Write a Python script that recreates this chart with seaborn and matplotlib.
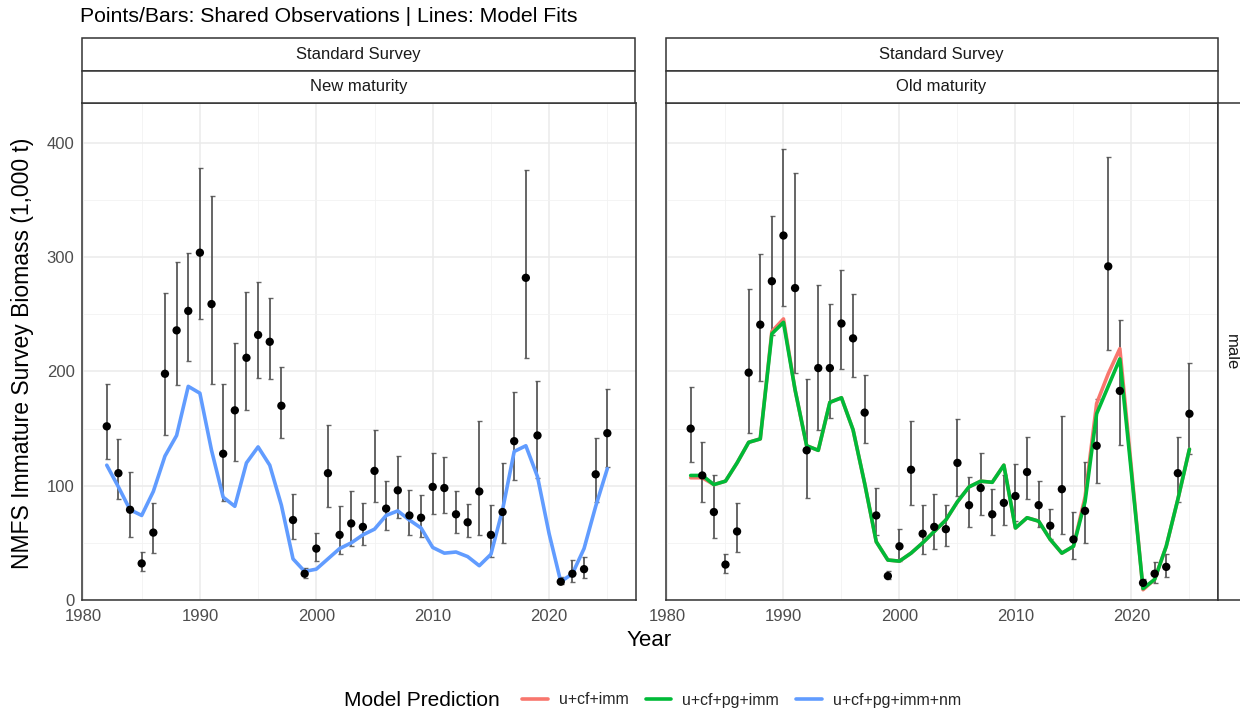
import matplotlib
matplotlib.use('Agg')
import numpy as np
import pandas as pd
import seaborn as sb
from matplotlib import pyplot as plt
from matplotlib.patches import Rectangle
from matplotlib.lines import Line2D

# survey years (no survey in 2020)
obs_years = [1982, 1983, 1984, 1985, 1986, 1987, 1988, 1989, 1990, 1991, 1992,
             1993, 1994, 1995, 1996, 1997, 1998, 1999, 2000, 2001, 2002, 2003,
             2004, 2005, 2006, 2007, 2008, 2009, 2010, 2011, 2012, 2013, 2014,
             2015, 2016, 2017, 2018, 2019, 2021, 2022, 2023, 2024, 2025]
fit_years = list(range(1982, 2026))

# new maturity observations
new_obs = [152, 111, 79, 32, 59, 198, 236, 253, 304, 259, 128, 166, 212, 232, 226,
           170, 70, 23, 45, 111, 57, 67, 64, 113, 80, 96, 74, 72, 99, 98, 75, 68,
           95, 57, 77, 139, 282, 144, 16, 23, 27, 110, 146]
new_lo = [123, 88, 55, 25, 41, 144, 188, 209, 246, 189, 87, 122, 166, 194, 193,
          142, 53, 19, 34, 81, 40, 47, 48, 86, 61, 72, 57, 55, 75, 76, 59, 55,
          57, 38, 50, 105, 212, 107, 14, 16, 19, 86, 116]
new_hi = [189, 141, 112, 42, 85, 269, 296, 304, 378, 354, 189, 225, 270, 278, 264,
          204, 93, 28, 59, 153, 82, 95, 85, 149, 104, 126, 96, 92, 129, 125, 95,
          84, 157, 83, 120, 182, 376, 192, 20, 35, 38, 142, 185]

# old maturity observations
old_obs = [150, 109, 77, 31, 60, 199, 241, 279, 319, 273, 131, 203, 203, 242, 229,
           164, 74, 21, 47, 114, 58, 64, 62, 120, 83, 98, 75, 85, 91, 112, 83, 65,
           97, 53, 78, 135, 292, 183, 15, 23, 29, 111, 163]
old_lo = [121, 86, 54, 24, 42, 146, 192, 232, 257, 199, 89, 149, 159, 202, 195,
          137, 57, 18, 34, 83, 40, 45, 47, 91, 64, 74, 57, 66, 69, 88, 64, 53,
          58, 36, 50, 102, 219, 136, 12, 15, 20, 86, 128]
old_hi = [186, 138, 109, 40, 85, 272, 303, 336, 395, 374, 193, 276, 259, 289, 268,
          197, 98, 25, 62, 157, 83, 93, 83, 158, 108, 129, 97, 109, 119, 143, 104,
          80, 161, 77, 121, 176, 388, 245, 18, 33, 40, 143, 207]

# model fits
fit_imm = [107, 107, 101, 104, 120, 138, 141, 235, 246, 184, 135, 131, 173, 177,
           149, 102, 51, 35, 34, 41, 50, 60, 70, 86, 99, 104, 103, 118, 63, 72,
           69, 53, 41, 47, 90, 172, 198, 220, 115, 9, 18, 47, 88, 132]
fit_pg = [109, 109, 101, 104, 120, 138, 141, 233, 243, 184, 135, 131, 173, 177,
          149, 102, 51, 35, 34, 41, 50, 60, 70, 86, 99, 104, 103, 118, 63, 72,
          69, 53, 41, 47, 86, 163, 187, 211, 111, 10, 18, 47, 88, 132]
fit_nm = [118, 99, 79, 74, 95, 126, 144, 187, 181, 131, 90, 82, 120, 134, 118, 83,
          36, 25, 27, 36, 45, 50, 57, 62, 74, 78, 70, 63, 46, 41, 42, 38, 30, 40,
          79, 130, 135, 108, 58, 16, 23, 45, 82, 115]

models = ['u+cf+imm', 'u+cf+pg+imm', 'u+cf+pg+imm+nm']
colors = {'u+cf+imm': '#F8766D', 'u+cf+pg+imm': '#00BA38', 'u+cf+pg+imm+nm': '#619CFF'}

sb.set_style('white')
plt.rcParams['font.family'] = ['Liberation Sans', 'DejaVu Sans']

W, H = 1240, 715
fig = plt.figure(figsize=(W / 100, H / 100), dpi=100)


def fx(px):
    return px / W


def fy(py):
    return 1 - py / H


def make_panel(x0, x1, obs, lo, hi, fits, strip_label):
    ax = fig.add_axes([fx(x0), fy(600), fx(x1 - x0), (600 - 103) / H])
    ax.set_xlim(1979.83, 2027.42)
    ax.set_ylim(0, 435)
    ax.set_xticks([1980, 1990, 2000, 2010, 2020])
    ax.set_xticks([1985, 1995, 2005, 2015, 2025], minor=True)
    ax.set_yticks([0, 100, 200, 300, 400])
    ax.set_yticks([50, 150, 250, 350], minor=True)
    ax.grid(which='major', color='#EBEBEB', linewidth=1.1)
    ax.grid(which='minor', color='#F2F2F2', linewidth=0.6)
    ax.set_axisbelow(True)
    for s in ax.spines.values():
        s.set_color('#333333')
        s.set_linewidth(1.1)
    ax.tick_params(which='major', length=3, width=0.9, color='#333333',
                   labelsize=12, labelcolor='#4D4D4D')
    ax.tick_params(axis='x', pad=3.5)
    ax.tick_params(axis='y', pad=2)
    ax.tick_params(which='minor', length=0)

    # error bars
    yerr = [np.array(obs) - np.array(lo), np.array(hi) - np.array(obs)]
    ax.errorbar(obs_years, obs, yerr=yerr, fmt='none', ecolor='#555555',
                elinewidth=1.4, capsize=1.8, capthick=1.0, alpha=0.9, zorder=2)

    # model lines
    for name, vals in fits:
        df = pd.DataFrame({'year': fit_years, 'value': vals})
        sb.lineplot(data=df, x='year', y='value', color=colors[name],
                    linewidth=2.6, ax=ax, zorder=3)

    # observed points
    dfo = pd.DataFrame({'year': obs_years, 'value': obs})
    sb.scatterplot(data=dfo, x='year', y='value', color='black', s=36,
                   edgecolor='none', ax=ax, zorder=4)
    ax.set_xlabel('')
    ax.set_ylabel('')

    # facet strips
    for (ya, yb, txt) in [(38, 71, 'Standard Survey'), (71, 103, strip_label)]:
        r = Rectangle((fx(x0), fy(yb)), fx(x1 - x0), (yb - ya) / H,
                      transform=fig.transFigure, facecolor='white',
                      edgecolor='#333333', linewidth=1.1)
        fig.add_artist(r)
        fig.text(fx((x0 + x1) / 2), fy((ya + yb) / 2), txt, ha='center',
                 va='center', fontsize=12, color='#1A1A1A')
    return ax


ax1 = make_panel(81.5, 635.5, new_obs, new_lo, new_hi,
                 [('u+cf+pg+imm+nm', fit_nm)], 'New maturity')
ax2 = make_panel(665.5, 1217.5, old_obs, old_lo, old_hi,
                 [('u+cf+imm', fit_imm), ('u+cf+pg+imm', fit_pg)], 'Old maturity')
ax2.set_yticklabels([])
ax2.tick_params(axis='y', length=0)

# row strip on the right
r = Rectangle((fx(1217.5), fy(600)), fx(40), (600 - 103) / H,
              transform=fig.transFigure, facecolor='white',
              edgecolor='#333333', linewidth=1.1)
fig.add_artist(r)
fig.text(fx(1231), fy(352), 'male', rotation=-90, ha='center', va='center',
         fontsize=12, color='#1A1A1A')

fig.text(fx(80), fy(17), 'Points/Bars: Shared Observations | Lines: Model Fits',
         ha='left', va='center', fontsize=15.3, color='black')
fig.text(fx(23), fy(353), 'NMFS Immature Survey Biomass (1,000 t)', rotation=90,
         ha='center', va='center', fontsize=16.5, color='black')
fig.text(fx(649), fy(641), 'Year', ha='center', va='center', fontsize=16,
         color='black')

fig.text(fx(344), fy(700), 'Model Prediction', ha='left', va='center',
         fontsize=15, color='black')
handles = [Line2D([0], [0], color=colors[m], linewidth=2.6) for m in models]
fig.legend(handles, models, loc='center left', bbox_to_anchor=(fx(508), fy(700)),
           ncol=3, frameon=False, fontsize=11.4, handlelength=1.6,
           handletextpad=0.7, columnspacing=1.1)

fig.savefig('out.png', dpi=100)
